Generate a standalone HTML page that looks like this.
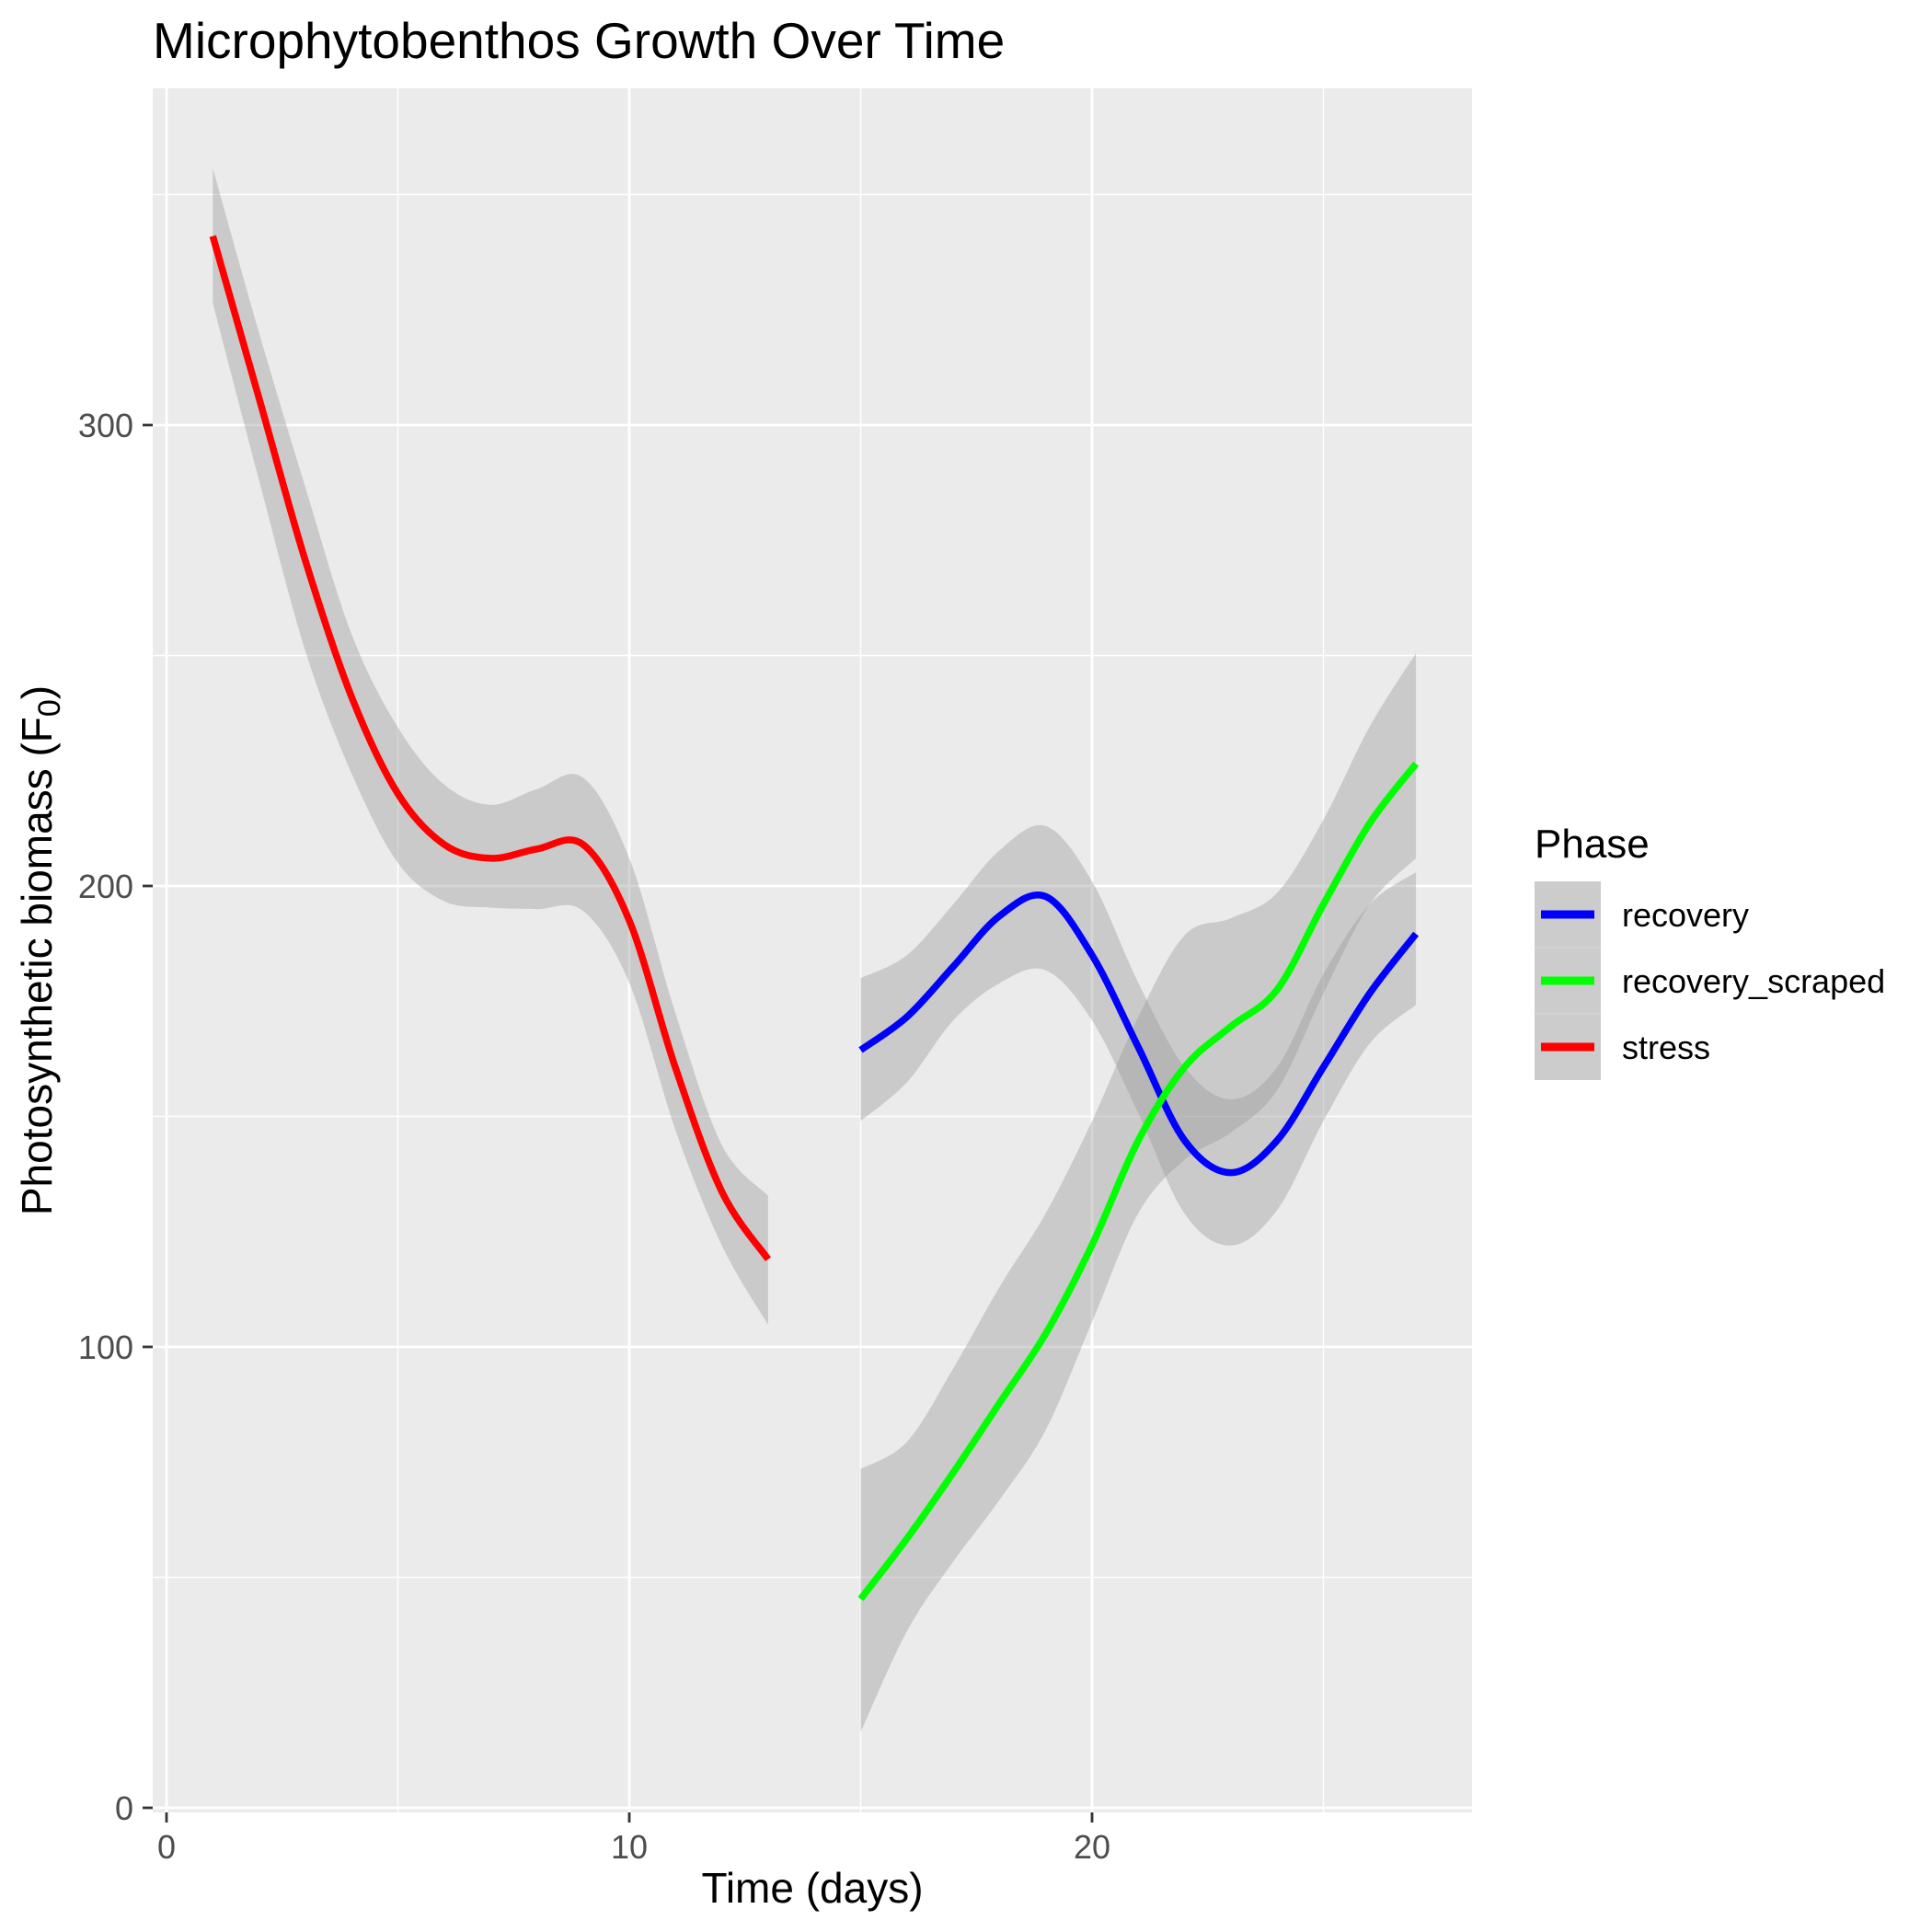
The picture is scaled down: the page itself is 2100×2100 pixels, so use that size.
<!DOCTYPE html>
<html><head><meta charset="utf-8"><style>
html,body{margin:0;padding:0;background:#fff;}
svg{display:block;font-family:"Liberation Sans",Arial,sans-serif;}
</style></head><body>
<svg id="chart" width="2100" height="2100" viewBox="0 0 2100 2100" xmlns="http://www.w3.org/2000/svg">
<rect x="0" y="0" width="2100" height="2100" fill="#fff"/>
<rect x="166" y="96" width="1434" height="1874" fill="#EBEBEB"/>
<g id="grid"></g>
<g id="bands"></g>
<g id="lines"></g>
<g id="axes"></g>
<text x="166" y="63" font-size="55" fill="#000">Microphytobenthos Growth Over Time</text>
<text x="883" y="2068" font-size="46" text-anchor="middle" fill="#000">Time (days)</text>
<text transform="translate(56,1033) rotate(-90)" font-size="46" text-anchor="middle" fill="#000">Photosynthetic biomass (F<tspan font-size="34" dy="9">0</tspan><tspan dy="-9">)</tspan></text>
<g>
<text x="1668" y="932" font-size="44" fill="#000">Phase</text>
<rect x="1668" y="958" width="72" height="216" fill="#CCCCCC"/>
<line x1="1668" y1="1030" x2="1740" y2="1030" stroke="#DADADA" stroke-width="1"/>
<line x1="1668" y1="1102" x2="1740" y2="1102" stroke="#DADADA" stroke-width="1"/>
<line x1="1675" y1="994" x2="1733" y2="994" stroke="#0000FF" stroke-width="9"/>
<line x1="1675" y1="1066" x2="1733" y2="1066" stroke="#00FF00" stroke-width="9"/>
<line x1="1675" y1="1138" x2="1733" y2="1138" stroke="#FF0000" stroke-width="9"/>
<text x="1763" y="1007" font-size="36" fill="#000">recovery</text>
<text x="1763" y="1079" font-size="36" fill="#000">recovery_scraped</text>
<text x="1763" y="1151" font-size="36" fill="#000">stress</text>
</g>
</svg>
<script>
const xTicks=[0,10,20];
const xMinor=[5,15,25];
const yTicks=[0,100,200,300];
const yMinor=[50,150,250,350];
const stressX=[1,2,3,4,5,6,7,8,9,10,11,12,13];
const stressY=[341,305.8,270.6,241,220,209,206,208,209,192.5,160.5,133.7,119];
const stressHi=[355.7,320,286.5,254.6,234.4,222,217.6,221,223.5,206,172.3,143.8,132.8];
const stressLo=[326.5,288,251,224.4,205,196.7,195.3,195,194.6,179,147,122,104.8];
const recX=[15,16,17,18,19,20,21,22,23,24,25,26,27];
const recY=[164.4,171.6,182.5,193.5,197.7,185,165,144.8,137.8,144.8,160.7,176.7,189.6];
const recHi=[180,185,196,207.7,213,201,179,160.7,153.7,160.7,180.9,196,203];
const recLo=[149,157.4,170.8,178.9,181.7,170.8,150.7,128.9,122,129.7,149,165.8,174.2];
const scrY=[45.3,58.4,72.7,87.8,102.9,122.1,144.8,160.7,169.5,177.5,196,213.6,226.5];
const scrHi=[73.5,79.4,95.3,113,129,149,171.6,189.3,193,198.5,214.4,234.6,250.5];
const scrLo=[16.4,38.3,53.4,66.8,82,105.4,129,140.6,146.5,155.7,176.7,196,206];

const NS="http://www.w3.org/2000/svg";
const PL=166,PR=1600,PT=96,PB=1970;
function sx(v){return 181+v*50.3;}
function sy(v){return 1965-v*5.01;}
function mk(tag,attrs,parent){const e=document.createElementNS(NS,tag);for(const k in attrs)e.setAttribute(k,attrs[k]);parent.appendChild(e);return e;}
function pts(xs,ys){return xs.map((x,i)=>[sx(x),sy(ys[i])]);}
function curve(p,move){
  let d=(move?"M":"L")+p[0][0].toFixed(1)+","+p[0][1].toFixed(1);
  for(let i=0;i<p.length-1;i++){
    const p0=p[Math.max(i-1,0)],p1=p[i],p2=p[i+1],p3=p[Math.min(i+2,p.length-1)];
    const c1=[p1[0]+(p2[0]-p0[0])/6,p1[1]+(p2[1]-p0[1])/6];
    const c2=[p2[0]-(p3[0]-p1[0])/6,p2[1]-(p3[1]-p1[1])/6];
    d+="C"+c1[0].toFixed(1)+","+c1[1].toFixed(1)+" "+c2[0].toFixed(1)+","+c2[1].toFixed(1)+" "+p2[0].toFixed(1)+","+p2[1].toFixed(1);
  }
  return d;
}
const grid=document.getElementById('grid');
xMinor.forEach(v=>{const l=mk('line',{x1:sx(v),x2:sx(v),y1:PT,y2:PB,stroke:'#fff','stroke-width':1.4},grid);

});
yMinor.forEach(v=>{const l=mk('line',{x1:PL,x2:PR,y1:sy(v),y2:sy(v),stroke:'#fff','stroke-width':1.4},grid);

});
xTicks.forEach(v=>{const l=mk('line',{x1:sx(v),x2:sx(v),y1:PT,y2:PB,stroke:'#fff','stroke-width':2.8},grid);

});
yTicks.forEach(v=>{const l=mk('line',{x1:PL,x2:PR,y1:sy(v),y2:sy(v),stroke:'#fff','stroke-width':2.8},grid);

});

const bands=document.getElementById('bands');
function band(xs,hi,lo,name){
  const up=pts(xs,hi),dn=pts(xs,lo).reverse();
  const d=curve(up,true)+curve(dn,false)+"Z";
  const p=mk('path',{d:d,fill:'#999999','fill-opacity':0.4},bands);
  
  
}
band(stressX,stressHi,stressLo,'band-stress');
band(recX,recHi,recLo,'band-recovery');
band(recX,scrHi,scrLo,'band-recovery-scraped');

const lines=document.getElementById('lines');
function line(xs,ys,color,name){
  const p=mk('path',{d:curve(pts(xs,ys),true),fill:'none',stroke:color,'stroke-width':7.5},lines);
  
  
}
line(stressX,stressY,'#FF0000','line-stress');
line(recX,recY,'#0000FF','line-recovery');
line(recX,scrY,'#00FF00','line-recovery-scraped');

const axes=document.getElementById('axes');
xTicks.forEach(v=>{
  const t=mk('line',{x1:sx(v),x2:sx(v),y1:PB,y2:PB+11,stroke:'#333','stroke-width':2.8},axes);
  
  
  const l=mk('text',{x:sx(v),y:2020,'font-size':36,fill:'#4D4D4D','text-anchor':'middle'},axes);
  l.textContent=v;
  
  
});
yTicks.forEach(v=>{
  const t=mk('line',{x1:PL-11,x2:PL,y1:sy(v),y2:sy(v),stroke:'#333','stroke-width':2.8},axes);
  
  
  const l=mk('text',{x:145,y:sy(v)+13,'font-size':36,fill:'#4D4D4D','text-anchor':'end'},axes);
  l.textContent=v;
  
  
});
</script>
</body></html>
